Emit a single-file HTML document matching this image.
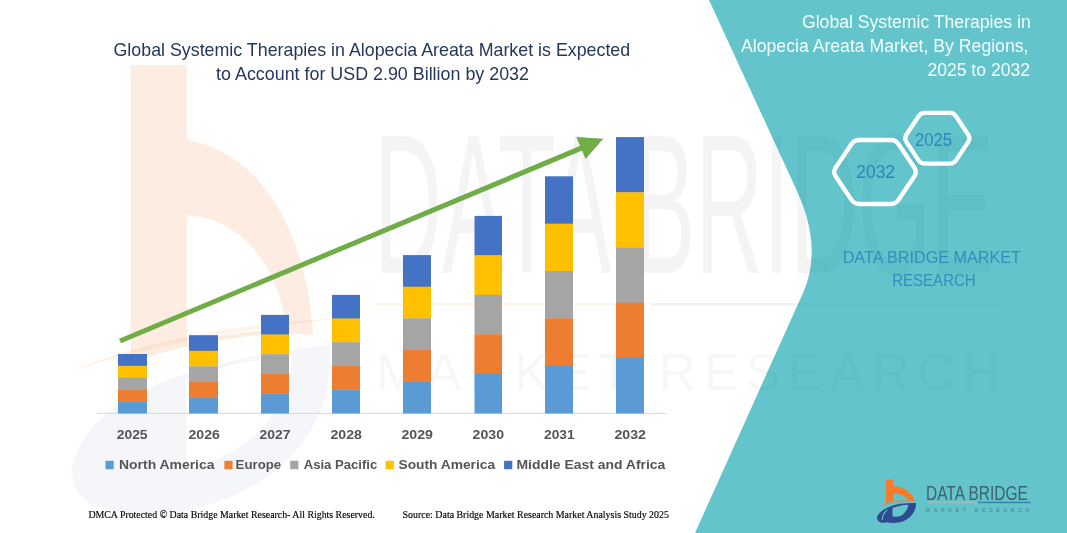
<!DOCTYPE html>
<html lang="en">
<head>
<meta charset="utf-8">
<title>Global Systemic Therapies in Alopecia Areata Market</title>
<style>
html,body{margin:0;padding:0;background:#fff;}
body{width:1067px;height:533px;overflow:hidden;}
svg{display:block;}
text{font-family:"Liberation Sans",sans-serif;}
.serif{font-family:"Liberation Serif",serif;}
</style>
</head>
<body>
<svg width="1067" height="533" viewBox="0 0 1067 533">
<rect width="1067" height="533" fill="#ffffff"/>

<g>
<path d="M130.5,65 L187,65 L187,140 C250,150 305,215 313,335 C270,330 200,340 130.5,362 Z" fill="#F47B2C" opacity="0.14"/>
<path d="M187,215 C240,218 280,265 286,330 C250,330 215,336 187,343 Z" fill="#ffffff"/>
<path d="M70,372 C140,340 250,322 345,318 C250,326 140,348 70,372 Z" fill="#F47B2C" opacity="0.10"/>
<path d="M72,470 C80,415 150,365 330,345 C335,420 290,490 180,512 C150,516 110,512 92,505 C80,498 72,486 72,470 Z" fill="#2E4B8F" opacity="0.05"/>
<path d="M186,380 C220,366 260,358 292,356 C290,400 262,452 186,470 Z" fill="#ffffff"/>
</g>
<g fill="#000000">
<text x="374" y="273" font-size="199" opacity="0.04" textLength="620" lengthAdjust="spacingAndGlyphs">DATA BRIDGE</text>
<text x="376" y="390" font-size="52" opacity="0.028" textLength="624" lengthAdjust="spacing">MARKET RESEARCH</text>
</g>
<rect x="376" y="303" width="270" height="2" fill="#F47B2C" opacity="0.10"/>
<rect x="650" y="303" width="350" height="2.5" fill="#2E4B8F" opacity="0.08"/>

<!-- teal panel -->
<path d="M709,0 L1067,0 L1067,533 L695,533 L803,293 Q823,248 797,191 Z" fill="#63C5CB"/>

<clipPath id="tealclip"><path d="M709,0 L1067,0 L1067,533 L695,533 L803,293 Q823,248 797,191 Z"/></clipPath>
<g fill="#1f6f80" clip-path="url(#tealclip)">
<text x="374" y="273" font-size="199" opacity="0.06" textLength="620" lengthAdjust="spacingAndGlyphs">DATA BRIDGE</text>
<text x="376" y="390" font-size="52" opacity="0.045" textLength="624" lengthAdjust="spacing">MARKET RESEARCH</text>
<rect x="650" y="303" width="350" height="2.5" opacity="0.06"/>
</g>

<!-- chart title -->
<g fill="#27365e" font-size="17.8">
<text x="113.5" y="56.1" textLength="516.7" lengthAdjust="spacingAndGlyphs">Global Systemic Therapies in Alopecia Areata Market is Expected</text>
<text x="216.1" y="80" textLength="312.9" lengthAdjust="spacingAndGlyphs">to Account for USD 2.90 Billion by 2032</text>
</g>

<!-- axis -->
<rect x="97" y="412.9" width="569" height="1" fill="#d9d9d9"/>

<!-- bars -->
<rect x="118" y="354.00" width="29" height="12.14" fill="#4472C4"/>
<rect x="118" y="365.84" width="29" height="12.14" fill="#FFC000"/>
<rect x="118" y="377.68" width="29" height="12.14" fill="#A5A5A5"/>
<rect x="118" y="389.52" width="29" height="12.14" fill="#ED7D31"/>
<rect x="118" y="401.36" width="29" height="12.14" fill="#5B9BD5"/>
<rect x="189" y="335.20" width="29" height="15.90" fill="#4472C4"/>
<rect x="189" y="350.80" width="29" height="15.90" fill="#FFC000"/>
<rect x="189" y="366.40" width="29" height="15.90" fill="#A5A5A5"/>
<rect x="189" y="382.00" width="29" height="15.90" fill="#ED7D31"/>
<rect x="189" y="397.60" width="29" height="15.90" fill="#5B9BD5"/>
<rect x="261" y="314.90" width="28" height="19.96" fill="#4472C4"/>
<rect x="261" y="334.56" width="28" height="19.96" fill="#FFC000"/>
<rect x="261" y="354.22" width="28" height="19.96" fill="#A5A5A5"/>
<rect x="261" y="373.88" width="28" height="19.96" fill="#ED7D31"/>
<rect x="261" y="393.54" width="28" height="19.96" fill="#5B9BD5"/>
<rect x="332" y="294.90" width="28" height="23.96" fill="#4472C4"/>
<rect x="332" y="318.56" width="28" height="23.96" fill="#FFC000"/>
<rect x="332" y="342.22" width="28" height="23.96" fill="#A5A5A5"/>
<rect x="332" y="365.88" width="28" height="23.96" fill="#ED7D31"/>
<rect x="332" y="389.54" width="28" height="23.96" fill="#5B9BD5"/>
<rect x="403" y="255.10" width="28" height="31.92" fill="#4472C4"/>
<rect x="403" y="286.72" width="28" height="31.92" fill="#FFC000"/>
<rect x="403" y="318.34" width="28" height="31.92" fill="#A5A5A5"/>
<rect x="403" y="349.96" width="28" height="31.92" fill="#ED7D31"/>
<rect x="403" y="381.58" width="28" height="31.92" fill="#5B9BD5"/>
<rect x="474.5" y="215.90" width="27.5" height="39.76" fill="#4472C4"/>
<rect x="474.5" y="255.36" width="27.5" height="39.76" fill="#FFC000"/>
<rect x="474.5" y="294.82" width="27.5" height="39.76" fill="#A5A5A5"/>
<rect x="474.5" y="334.28" width="27.5" height="39.76" fill="#ED7D31"/>
<rect x="474.5" y="373.74" width="27.5" height="39.76" fill="#5B9BD5"/>
<rect x="545" y="176.30" width="28" height="47.68" fill="#4472C4"/>
<rect x="545" y="223.68" width="28" height="47.68" fill="#FFC000"/>
<rect x="545" y="271.06" width="28" height="47.68" fill="#A5A5A5"/>
<rect x="545" y="318.44" width="28" height="47.68" fill="#ED7D31"/>
<rect x="545" y="365.82" width="28" height="47.68" fill="#5B9BD5"/>
<rect x="616" y="137.10" width="28" height="55.52" fill="#4472C4"/>
<rect x="616" y="192.32" width="28" height="55.52" fill="#FFC000"/>
<rect x="616" y="247.54" width="28" height="55.52" fill="#A5A5A5"/>
<rect x="616" y="302.76" width="28" height="55.52" fill="#ED7D31"/>
<rect x="616" y="357.98" width="28" height="55.52" fill="#5B9BD5"/>

<!-- arrow -->
<line x1="120" y1="341" x2="583" y2="147.4" stroke="#70AD47" stroke-width="5"/>
<polygon points="603.3,138.7 576.3,137 585.6,158.9" fill="#70AD47"/>

<!-- year labels -->
<g fill="#555555" font-size="13.6" font-weight="bold">
<text x="116.7" y="438.9" textLength="30.9" lengthAdjust="spacingAndGlyphs">2025</text>
<text x="188.4" y="438.9" textLength="31.5" lengthAdjust="spacingAndGlyphs">2026</text>
<text x="259.5" y="438.9" textLength="31.0" lengthAdjust="spacingAndGlyphs">2027</text>
<text x="330.4" y="438.9" textLength="31.5" lengthAdjust="spacingAndGlyphs">2028</text>
<text x="401.5" y="438.9" textLength="31.5" lengthAdjust="spacingAndGlyphs">2029</text>
<text x="472.6" y="438.9" textLength="31.4" lengthAdjust="spacingAndGlyphs">2030</text>
<text x="544" y="438.9" textLength="30.6" lengthAdjust="spacingAndGlyphs">2031</text>
<text x="614.4" y="438.9" textLength="31.6" lengthAdjust="spacingAndGlyphs">2032</text>
</g>

<!-- legend -->
<g fill="#555555" font-size="13.4" font-weight="bold">
<rect x="105.5" y="460.8" width="8.2" height="8.4" fill="#5B9BD5"/><text x="119" y="469" textLength="95.5" lengthAdjust="spacingAndGlyphs">North America</text>
<rect x="224.4" y="460.8" width="8.2" height="8.4" fill="#ED7D31"/><text x="235.6" y="469" textLength="45.6" lengthAdjust="spacingAndGlyphs">Europe</text>
<rect x="290.2" y="460.8" width="8.2" height="8.4" fill="#A5A5A5"/><text x="303.7" y="469" textLength="73.6" lengthAdjust="spacingAndGlyphs">Asia Pacific</text>
<rect x="385.6" y="460.8" width="8.2" height="8.4" fill="#FFC000"/><text x="398.5" y="469" textLength="96.6" lengthAdjust="spacingAndGlyphs">South America</text>
<rect x="504.1" y="460.8" width="8.2" height="8.4" fill="#4472C4"/><text x="516.4" y="469" textLength="149.0" lengthAdjust="spacingAndGlyphs">Middle East and Africa</text>
</g>

<!-- footer -->
<g class="serif" fill="#000000" stroke="#000000" stroke-width="0.15" font-size="10.4">
<text class="serif" x="88.4" y="518.4" textLength="286.4" lengthAdjust="spacingAndGlyphs">DMCA Protected © Data Bridge Market Research- All Rights Reserved.</text>
<text class="serif" x="402.6" y="518.4" textLength="266.3" lengthAdjust="spacingAndGlyphs">Source: Data Bridge Market Research Market Analysis Study 2025</text>
</g>

<!-- right title -->
<g fill="#f1ffff" font-size="17.6">
<text x="802" y="27.8" textLength="228.7" lengthAdjust="spacingAndGlyphs">Global Systemic Therapies in</text>
<text x="741" y="52.1" textLength="287.5" lengthAdjust="spacingAndGlyphs">Alopecia Areata Market, By Regions,</text>
<text x="927.4" y="76.4" textLength="102.6" lengthAdjust="spacingAndGlyphs">2025 to 2032</text>
</g>

<!-- hexagons -->
<g fill="none" stroke="#ffffff" stroke-width="4.3" stroke-linejoin="round">
<path d="M835.6,176.2 Q832.8,172.0 835.6,167.8 L851.4,144.2 Q854.2,140.0 859.2,140.0 L890.8,140.0 Q895.8,140.0 898.6,144.2 L914.4,167.8 Q917.2,172.0 914.4,176.2 L898.6,199.8 Q895.8,204.0 890.8,204.0 L859.2,204.0 Q854.2,204.0 851.4,199.8 Z"/>
<path d="M906.2,141.6 Q904.0,138.3 906.2,135.0 L918.6,116.2 Q920.8,112.9 924.8,112.9 L949.8,112.9 Q953.8,112.9 956.0,116.2 L968.4,135.0 Q970.6,138.3 968.4,141.6 L956.0,160.4 Q953.8,163.7 949.8,163.7 L924.8,163.7 Q920.8,163.7 918.6,160.4 Z"/>
</g>
<g fill="#2E86B8" font-size="18.2">
<text x="856.2" y="177.7" textLength="38.9" lengthAdjust="spacingAndGlyphs">2032</text>
<text x="914.9" y="146" textLength="37.1" lengthAdjust="spacingAndGlyphs">2025</text>
</g>

<!-- DBMR label -->
<g fill="#358DBD" font-size="17">
<text x="842.7" y="262.6" textLength="178.3" lengthAdjust="spacingAndGlyphs">DATA BRIDGE MARKET</text>
<text x="892.2" y="286.1" textLength="83.5" lengthAdjust="spacingAndGlyphs">RESEARCH</text>
</g>

<g>
<!-- orange b -->
<path d="M886,479.6 L893.2,479.6 L893.2,486.1 C903,486.6 912.6,491.5 914.8,501.4 C905,499.6 894,500.6 884.3,503.6 L886,503 Z" fill="#F47B2C"/>
<path d="M893.2,493.8 C900,493.6 906,496 908.3,500.6 C903,500 898,500.2 893.2,501.2 Z" fill="#63C5CB"/>
<path d="M876.7,506.8 C888,502.2 904,500 918,501.6 C904,501.2 889,503 876.7,506.8 Z" fill="#F47B2C" opacity="0.8"/>
<!-- navy lower -->
<path d="M876.7,517.4 C879,511 888,506 900.6,503.8 C906,503 911,502.8 916,503 C916.4,509 913,516.5 904,521 C898,523.4 891,523.2 886.5,522.2 C884.5,522.8 882.5,523 880.6,522.6 C878.6,521.4 877,519.6 876.7,517.4 Z" fill="#2E4B8F"/>
<path d="M892.5,508 C897.5,506 903,505 908.3,504.7 C908,509 905,513.6 900.6,516 C898,516.8 895,516.9 892.5,516.6 Z" fill="#63C5CB"/>
<path d="M887.2,509.6 C884,512.5 882.3,516 882.2,520" fill="none" stroke="#63C5CB" stroke-width="1.1"/>
<!-- wordmark -->
<text x="926" y="499.5" font-size="19.3" fill="#3f6272" textLength="101.8" lengthAdjust="spacingAndGlyphs">DATA BRIDGE</text>
<rect x="926.6" y="502" width="49" height="0.9" fill="#e9b9a5" opacity="0.55"/>
<rect x="978" y="501.7" width="52.6" height="1.5" fill="#3a7fb5"/>
<text x="925.6" y="511.5" font-size="5.6" fill="#46808f" textLength="104" lengthAdjust="spacing">MARKET RESEARCH</text>
</g>
</svg>
</body>
</html>
